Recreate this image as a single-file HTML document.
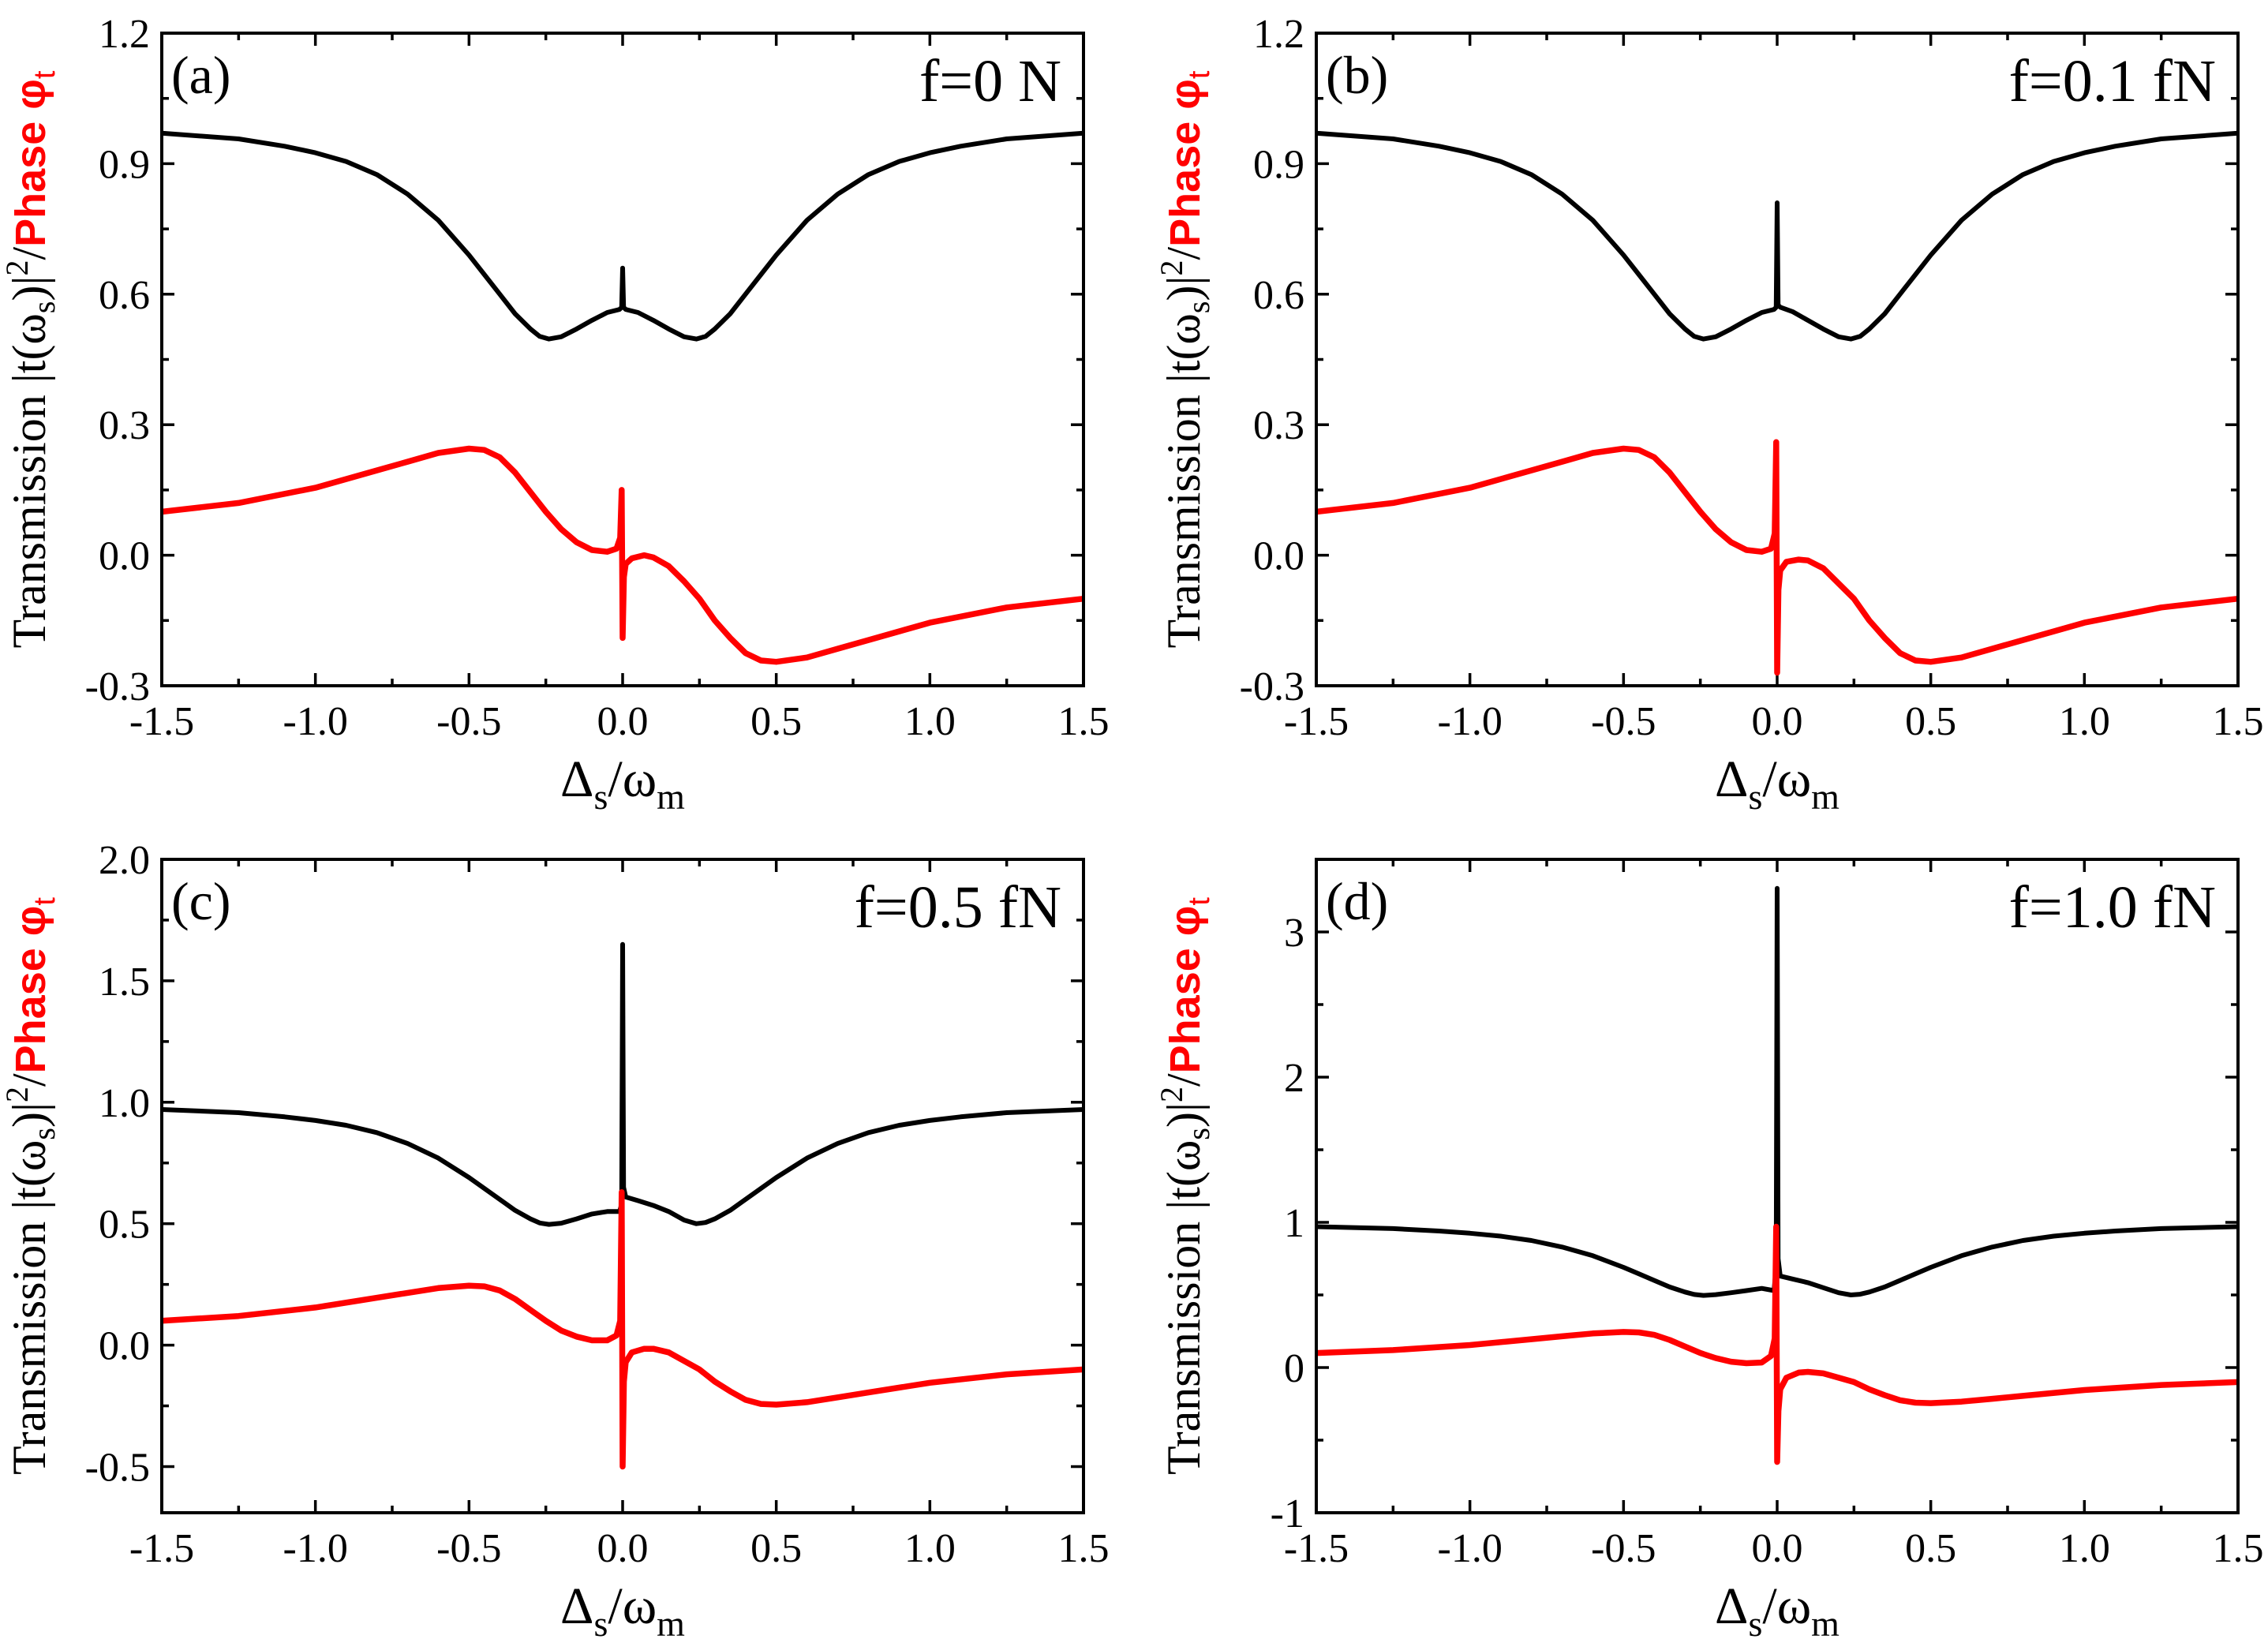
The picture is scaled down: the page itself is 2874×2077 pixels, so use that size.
<!DOCTYPE html>
<html><head><meta charset="utf-8">
<style>
html,body{margin:0;padding:0;background:#fff;}
svg{display:block;font-family:"Liberation Serif",serif;}
</style></head>
<body>
<svg id="fig" width="2874" height="2077" viewBox="0 0 2874 2077" xmlns="http://www.w3.org/2000/svg"></svg>
<script>
// ---- data ----
const xTicks = [-1.5,-1.0,-0.5,0.0,0.5,1.0,1.5];
const xTickLabels = ["-1.5","-1.0","-0.5","0.0","0.5","1.0","1.5"];
const panelLabels = ["(a)","(b)","(c)","(d)"];
const forceLabels = ["f=0 N","f=0.1 fN","f=0.5 fN","f=1.0 fN"];
const yTicksA = [-0.3,0.0,0.3,0.6,0.9,1.2];
const yTickLabelsA = ["-0.3","0.0","0.3","0.6","0.9","1.2"];
const yTicksC = [-0.5,0.0,0.5,1.0,1.5,2.0];
const yTickLabelsC = ["-0.5","0.0","0.5","1.0","1.5","2.0"];
const yTicksD = [-1,0,1,2,3];
const yTickLabelsD = ["-1","0","1","2","3"];

const xT = [-1.5,-1.25,-1.1,-1.0,-0.9,-0.8,-0.7,-0.6,-0.5,-0.45,-0.4,-0.35,-0.3,-0.27,-0.24,-0.2,-0.15,-0.1,-0.05,-0.01,-0.003,0,0.003,0.01,0.05,0.1,0.15,0.2,0.24,0.27,0.3,0.35,0.4,0.45,0.5,0.6,0.7,0.8,0.9,1.0,1.1,1.25,1.5];
const blackA = [0.97,0.957,0.94,0.925,0.905,0.875,0.83,0.77,0.69,0.645,0.60,0.555,0.52,0.503,0.497,0.502,0.52,0.54,0.558,0.565,0.57,0.66,0.57,0.565,0.558,0.54,0.52,0.502,0.497,0.503,0.52,0.555,0.60,0.645,0.69,0.77,0.83,0.875,0.905,0.925,0.94,0.957,0.97];
const blackB = [0.97,0.957,0.94,0.925,0.905,0.875,0.83,0.77,0.69,0.645,0.60,0.555,0.52,0.503,0.497,0.502,0.52,0.54,0.558,0.565,0.57,0.81,0.575,0.57,0.56,0.54,0.52,0.502,0.497,0.503,0.52,0.555,0.60,0.645,0.69,0.77,0.83,0.875,0.905,0.925,0.94,0.957,0.97];
const blackC = [0.97,0.957,0.94,0.925,0.905,0.875,0.83,0.77,0.69,0.645,0.60,0.555,0.52,0.503,0.497,0.502,0.52,0.54,0.55,0.55,0.58,1.65,0.65,0.61,0.595,0.575,0.55,0.515,0.50,0.505,0.52,0.555,0.60,0.645,0.69,0.77,0.83,0.875,0.905,0.925,0.94,0.957,0.97];
const blackD = [0.97,0.957,0.94,0.925,0.905,0.875,0.83,0.77,0.69,0.645,0.60,0.555,0.52,0.503,0.497,0.502,0.515,0.53,0.545,0.53,0.70,3.3,0.75,0.63,0.61,0.585,0.55,0.515,0.50,0.505,0.52,0.555,0.60,0.645,0.69,0.77,0.83,0.875,0.905,0.925,0.94,0.957,0.97];

const xP = [-1.5,-1.25,-1.0,-0.8,-0.7,-0.6,-0.5,-0.45,-0.4,-0.35,-0.3,-0.25,-0.2,-0.15,-0.1,-0.05,-0.02,-0.008,-0.003,0,0.004,0.01,0.03,0.07,0.1,0.15,0.2,0.25,0.3,0.35,0.4,0.45,0.5,0.6,0.7,0.8,1.0,1.25,1.5];
const redA = [0.10,0.12,0.155,0.195,0.215,0.235,0.245,0.242,0.225,0.19,0.145,0.10,0.06,0.03,0.012,0.008,0.015,0.04,0.15,-0.19,-0.05,-0.02,-0.007,0.0,-0.005,-0.025,-0.06,-0.10,-0.15,-0.19,-0.225,-0.242,-0.245,-0.235,-0.215,-0.195,-0.155,-0.12,-0.10];
const redB = [0.10,0.12,0.155,0.195,0.215,0.235,0.245,0.242,0.225,0.19,0.145,0.10,0.06,0.03,0.012,0.008,0.015,0.05,0.26,-0.27,-0.08,-0.035,-0.015,-0.01,-0.012,-0.03,-0.065,-0.10,-0.15,-0.19,-0.225,-0.242,-0.245,-0.235,-0.215,-0.195,-0.155,-0.12,-0.10];
const redC = [0.10,0.12,0.155,0.195,0.215,0.235,0.245,0.242,0.225,0.19,0.145,0.10,0.06,0.035,0.02,0.02,0.04,0.10,0.63,-0.50,-0.15,-0.07,-0.03,-0.015,-0.015,-0.03,-0.065,-0.10,-0.15,-0.19,-0.225,-0.242,-0.245,-0.235,-0.215,-0.195,-0.155,-0.12,-0.10];
const redD = [0.10,0.12,0.155,0.195,0.215,0.235,0.245,0.242,0.225,0.19,0.145,0.10,0.065,0.04,0.03,0.035,0.08,0.20,0.97,-0.65,-0.30,-0.15,-0.07,-0.035,-0.03,-0.04,-0.07,-0.10,-0.15,-0.19,-0.225,-0.242,-0.245,-0.235,-0.215,-0.195,-0.155,-0.12,-0.10];

// ---- layout ----
const NS = "http://www.w3.org/2000/svg";
const svg = document.getElementById('fig');
function mk(tag, attrs, parent){
  const e = document.createElementNS(NS, tag);
  for (const k in attrs) e.setAttribute(k, attrs[k]);
  (parent||svg).appendChild(e);
  return e;
}
const panels = [
  {L:205,R:1373,T:42,B:869,ymin:-0.3,ymax:1.2,yt:yTicksA,yl:yTickLabelsA,minorY:0.15,bk:blackA,rd:redA},
  {L:1668,R:2836,T:42,B:869,ymin:-0.3,ymax:1.2,yt:yTicksA,yl:yTickLabelsA,minorY:0.15,bk:blackB,rd:redB},
  {L:205,R:1373,T:1089,B:1917,ymin:-0.69,ymax:2.0,yt:yTicksC,yl:yTickLabelsC,minorY:0.25,bk:blackC,rd:redC},
  {L:1668,R:2836,T:1089,B:1917,ymin:-1,ymax:3.5,yt:yTicksD,yl:yTickLabelsD,minorY:0.5,bk:blackD,rd:redD},
];
panels.forEach((p,i)=>{
  const g = mk('g',{});
  
  
  const sx = v => p.L + (v+1.5)/3*(p.R-p.L);
  const sy = v => p.B - (v-p.ymin)/(p.ymax-p.ymin)*(p.B-p.T);
  for (let v=-1.5; v<=1.5001; v+=0.25){
    const major = Math.abs(v*2-Math.round(v*2))<1e-6;
    const len = major?16:9;
    const x = sx(v);
    mk('line',{x1:x,x2:x,y1:p.B,y2:p.B-len,stroke:'#000','stroke-width':3.5},g);
    mk('line',{x1:x,x2:x,y1:p.T,y2:p.T+len,stroke:'#000','stroke-width':3.5},g);
  }
  const start = Math.ceil((p.ymin-1e-9)/p.minorY)*p.minorY;
  for (let v=start; v<=p.ymax+1e-9; v+=p.minorY){
    const r = v/(p.minorY*2);
    const major = Math.abs(r-Math.round(r))<1e-6;
    const len = major?16:9;
    const y = sy(v);
    mk('line',{x1:p.L,x2:p.L+len,y1:y,y2:y,stroke:'#000','stroke-width':3.5},g);
    mk('line',{x1:p.R,x2:p.R-len,y1:y,y2:y,stroke:'#000','stroke-width':3.5},g);
  }
  xTicks.forEach((v,k)=>{
    const t = mk('text',{x:sx(v),y:p.B+62,'text-anchor':'middle','font-size':52},g);
    t.textContent = xTickLabels[k];
    
    
  });
  p.yt.forEach((v,k)=>{
    const t = mk('text',{x:p.L-15,y:sy(v)+18,'text-anchor':'end','font-size':52},g);
    t.textContent = p.yl[k];
    
    
  });
  const ptsB = xT.map((x,k)=>sx(x).toFixed(1)+','+sy(p.bk[k]).toFixed(1)).join(' ');
  const pb = mk('polyline',{points:ptsB,fill:'none',stroke:'#000','stroke-width':6,'stroke-linejoin':'round'},g);
  
  
  const ptsR = xP.map((x,k)=>sx(x).toFixed(1)+','+sy(p.rd[k]).toFixed(1)).join(' ');
  const pr = mk('polyline',{points:ptsR,fill:'none',stroke:'#ff0000','stroke-width':7.5,'stroke-linejoin':'round'},g);
  
  
  const fr = mk('rect',{x:p.L,y:p.T,width:p.R-p.L,height:p.B-p.T,fill:'none',stroke:'#000','stroke-width':4},g);
  
  
  const pl = mk('text',{x:p.L+12,y:p.T+76,'font-size':68},g);
  pl.textContent = panelLabels[i];
  
  
  const fl = mk('text',{x:p.R-28,y:p.T+86,'font-size':76,'text-anchor':'end'},g);
  fl.textContent = forceLabels[i];
  
  
  const xt = mk('text',{x:(p.L+p.R)/2,y:p.B+140,'font-size':66,'text-anchor':'middle'},g);
  
  
  xt.innerHTML = 'Δ<tspan font-size="46" dy="16">s</tspan><tspan dy="-16">/ω</tspan><tspan font-size="46" dy="16">m</tspan>';
  const cy = (p.T+p.B)/2;
  const yx = p.L-148;
  const yt = mk('text',{x:0,y:0,'font-size':60,'text-anchor':'middle',transform:`translate(${yx},${cy}) rotate(-90)`},g);
  
  
  yt.innerHTML = 'Transmission |t(ω<tspan font-size="40" dy="12">s</tspan><tspan dy="-12">)|</tspan><tspan font-size="40" dy="-22">2</tspan><tspan dy="22">/</tspan><tspan fill="#ff0000" font-family="Liberation Sans, sans-serif" font-weight="bold" font-size="54">Phase φ</tspan><tspan fill="#ff0000" font-family="Liberation Sans, sans-serif" font-size="38" dy="12">t</tspan>';
});
</script>
</body></html>
